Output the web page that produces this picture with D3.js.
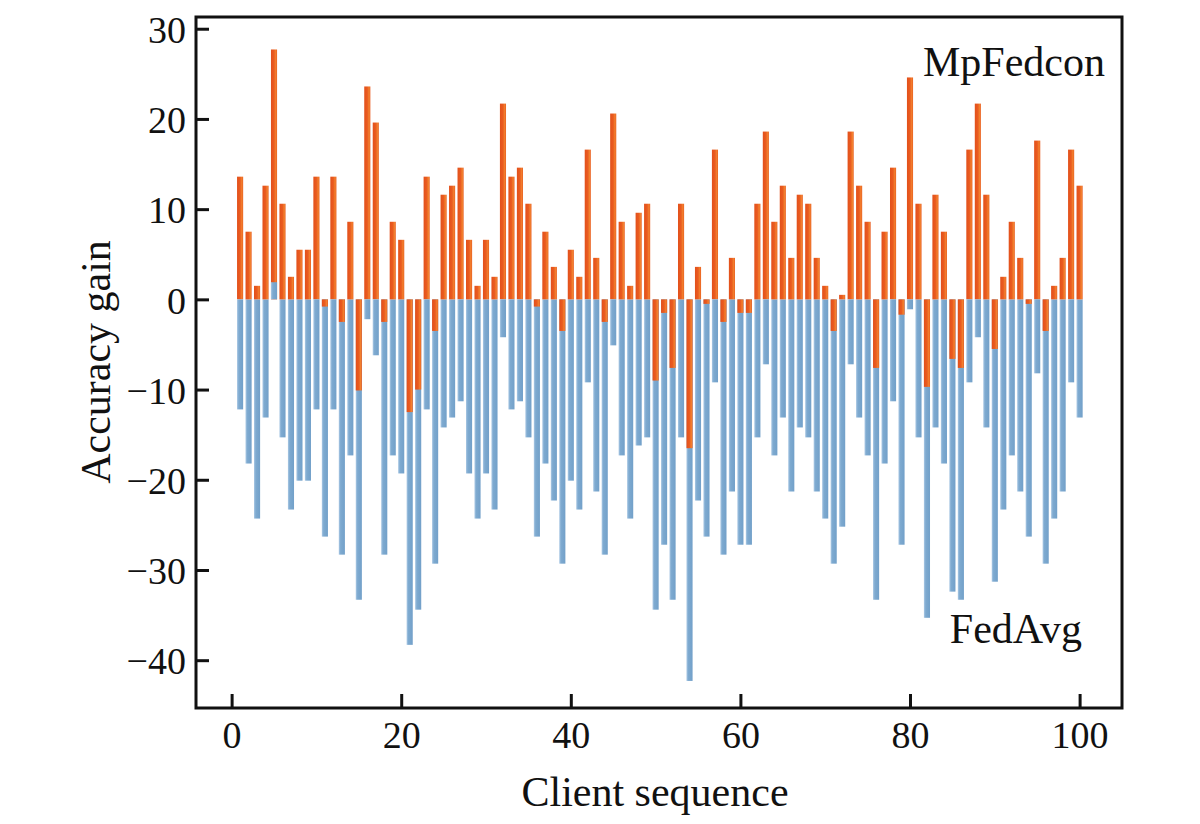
<!DOCTYPE html>
<html lang="en">
<head>
    <meta charset="UTF-8">
    <title>Accuracy gain per client</title>
    <style>
        body { margin: 0; background: #fff; }
        svg { display: block; }
        text { font-family: "Liberation Serif", "Times New Roman", serif; fill: #111; }
    </style>
    <script src="https://d3js.org/d3.v7.min.js"></script>
</head>
<body>
    <svg width="1200" height="824"></svg>

    <script>
        // client ids 1..100
        const clients = d3.range(1, 101);

        // MpFedcon gain (orange)
        const mpFedcon = [
            13.6, 7.5, 1.5, 12.6, 27.7, 10.6, 2.5, 5.5, 5.5, 13.6,
            -0.8, 13.6, -2.5, 8.6, -10.1, 23.6, 19.6, -2.5, 8.6, 6.6,
            -12.5, -10.0, 13.6, -3.5, 11.6, 12.6, 14.6, 6.6, 1.5, 6.6,
            2.5, 21.7, 13.6, 14.6, 10.6, -0.8, 7.5, 3.6, -3.5, 5.5,
            2.5, 16.6, 4.6, -2.5, 20.6, 8.6, 1.5, 9.6, 10.6, -9.0,
            -1.5, -7.6, 10.6, -16.5, 3.6, -0.5, 16.6, -2.5, 4.6, -1.5,
            -1.5, 10.6, 18.6, 8.6, 12.6, 4.6, 11.6, 10.6, 4.6, 1.5,
            -3.5, 0.5, 18.6, 12.6, 8.6, -7.6, 7.5, 14.6, -1.7, 24.6,
            10.6, -9.7, 11.6, 7.5, -6.6, -7.6, 16.6, 21.7, 11.6, -5.5,
            2.5, 8.6, 4.6, -0.5, 17.6, -3.5, 1.5, 4.6, 16.6, 12.6
        ];

        // FedAvg gain (blue)
        const fedAvg = [
            -12.2, -18.2, -24.3, -13.1, 1.9, -15.3, -23.3, -20.1, -20.1, -12.2,
            -26.3, -12.2, -28.3, -17.3, -33.3, -2.2, -6.2, -28.3, -17.3, -19.3,
            -38.3, -34.4, -12.2, -29.3, -14.2, -13.1, -11.3, -19.3, -24.3, -19.3,
            -23.3, -4.2, -12.2, -11.3, -15.3, -26.3, -18.2, -22.3, -29.3, -20.1,
            -23.3, -9.2, -21.3, -28.3, -5.1, -17.3, -24.3, -16.2, -15.3, -34.4,
            -27.2, -33.3, -15.3, -42.3, -22.3, -26.3, -9.2, -28.3, -21.3, -27.2,
            -27.2, -15.3, -7.2, -17.3, -13.1, -21.3, -14.2, -15.3, -21.3, -24.3,
            -29.3, -25.2, -7.2, -13.1, -17.3, -33.3, -18.2, -11.3, -27.2, -1.1,
            -15.3, -35.3, -14.2, -18.2, -32.4, -33.3, -9.2, -4.2, -14.2, -31.3,
            -23.3, -17.3, -21.3, -26.3, -8.2, -29.3, -24.3, -21.3, -9.2, -13.1
        ];

        const xTicks = [0, 20, 40, 60, 80, 100];
        const yTicks = [-40, -30, -20, -10, 0, 10, 20, 30];

        const plotL = 196, plotR = 1122, plotT = 17, plotB = 708;
        const barW = 0.72;

        const svg = d3.select('svg');

        const x = d3.scaleLinear().domain([-4.2, 105]).range([plotL, plotR]);
        const y = d3.scaleLinear().domain([-45.3, 31.3]).range([plotB, plotT]);

        // bar shading
        const defs = svg.append('defs');
        function grad(id, stops) {
            const g = defs.append('linearGradient')
                .attr('id', id)
                .attr('x1', '0').attr('x2', '1').attr('y1', '0').attr('y2', '0');
            stops.forEach(s => g.append('stop').attr('offset', s[0]).attr('stop-color', s[1]));
        }
        grad('gOrange', [[0, '#e2501b'], [0.5, '#ea5c20'], [0.8, '#f2822f'], [1, '#e8591e']]);
        grad('gBlue', [[0, '#aac8e4'], [0.3, '#7eaad0'], [1, '#72a0c9']]);

        // one record per bar; bigger magnitude drawn first so the short one stays visible
        let bars = [];
        clients.forEach((c, i) => {
            const pair = [
                { client: c, value: mpFedcon[i], fill: 'url(#gOrange)' },
                { client: c, value: fedAvg[i], fill: 'url(#gBlue)' }
            ];
            pair.sort((a, b) => Math.abs(b.value) - Math.abs(a.value));
            bars = bars.concat(pair);
        });

        svg.append('g')
            .selectAll('rect')
            .data(bars)
            .join('rect')
            .attr('x', d => x(d.client - barW / 2))
            .attr('width', x(barW) - x(0))
            .attr('y', d => y(Math.max(0, d.value)))
            .attr('height', d => Math.abs(y(d.value) - y(0)))
            .attr('fill', d => d.fill);

        // axes, ticks point inward
        const xAxis = svg.append('g')
            .attr('transform', `translate(0,${plotB})`)
            .call(d3.axisBottom(x).tickValues(xTicks).tickFormat(d3.format('d'))
                .tickSizeInner(-14).tickSizeOuter(0).tickPadding(13));

        const yAxis = svg.append('g')
            .attr('transform', `translate(${plotL},0)`)
            .call(d3.axisLeft(y).tickValues(yTicks).tickFormat(d3.format('d'))
                .tickSizeInner(-13).tickSizeOuter(0).tickPadding(10));

        [xAxis, yAxis].forEach(a => {
            a.select('.domain').remove();
            a.selectAll('.tick line').attr('stroke', '#111').attr('stroke-width', 3);
            a.selectAll('.tick text')
                .attr('fill', '#111')
                .style('font-family', '"Liberation Serif", serif')
                .style('font-size', '38px');
        });
        yAxis.selectAll('.tick text').attr('dy', '0.36em');
        xAxis.selectAll('.tick text').attr('dy', '0.71em');

        // frame
        svg.append('rect')
            .attr('x', plotL).attr('y', plotT)
            .attr('width', plotR - plotL).attr('height', plotB - plotT)
            .attr('fill', 'none')
            .attr('stroke', '#111')
            .attr('stroke-width', 3);

        // series names inside the plot
        svg.append('text')
            .attr('x', 1105).attr('y', 76)
            .attr('text-anchor', 'end')
            .style('font-size', '42px')
            .text('MpFedcon');

        svg.append('text')
            .attr('x', 1082).attr('y', 643)
            .attr('text-anchor', 'end')
            .style('font-size', '42px')
            .text('FedAvg');

        // axis titles
        svg.append('text')
            .attr('x', 655).attr('y', 806)
            .attr('text-anchor', 'middle')
            .style('font-size', '42px')
            .text('Client sequence');

        svg.append('text')
            .attr('transform', 'translate(110,362) rotate(-90)')
            .attr('text-anchor', 'middle')
            .style('font-size', '42px')
            .text('Accuracy gain');
    </script>
</body>
</html>
